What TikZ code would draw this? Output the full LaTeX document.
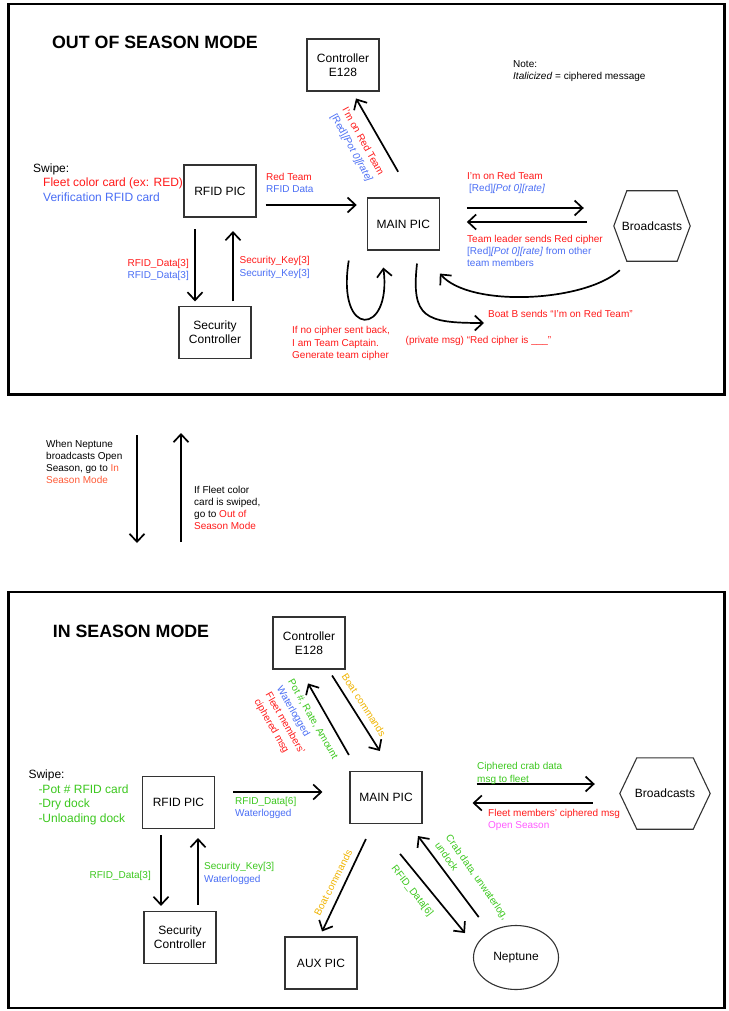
\documentclass[tikz,border=0pt]{standalone}
\usepackage{fontspec}
\setmainfont{Liberation Sans}
\usetikzlibrary{arrows.meta,shapes.geometric}
\definecolor{cred}{HTML}{FF1A1A}
\definecolor{cblue}{HTML}{4A6EF5}
\definecolor{cgreen}{HTML}{3CC81E}
\definecolor{corange}{HTML}{F0B400}
\definecolor{cmag}{HTML}{FF5CFF}
\definecolor{cored}{HTML}{FF5A36}
\begin{document}
\begin{tikzpicture}[x=1pt,y=-1pt,
  box/.style={draw=black!80, line width=1.1pt, minimum width=72pt, minimum height=52pt, inner sep=0pt, align=center, font=\fontsize{12}{14}\selectfont},
  hexn/.style={inner sep=0pt, font=\fontsize{12}{14}\selectfont},
  boxline/.style={draw=black!80, line width=1.1pt},
  ellbox/.style={ellipse, draw=black!80, line width=1.1pt, inner sep=0pt, font=\fontsize{12}{14}\selectfont},
  lbl/.style={align=left, anchor=north west, inner sep=0pt, font=\fontsize{10}{12.2}\selectfont},
  lblr/.style={align=right, anchor=north east, inner sep=0pt, font=\fontsize{10}{12.2}\selectfont},
  rlbl/.style={align=left, anchor=center, inner sep=0pt, font=\fontsize{10}{13}\selectfont},
  swipe/.style={align=left, anchor=north west, inner sep=0pt, font=\fontsize{12}{14.4}\selectfont},
  ttl/.style={inner sep=0pt, font=\fontsize{17.8}{20}\selectfont\bfseries},
  frame/.style={draw=black, line width=2.5pt},
  arr/.style={line width=1.7pt, -{Straight Barb[length=8pt,width=15pt]}}
]
\useasboundingbox (0,0) rectangle (728,1011);
\fill[white] (0,0) rectangle (728,1011);

% ---------- panels ----------
\draw[frame] (8.5,4) rectangle (724.5,394.5);
\draw[frame] (8.5,592) rectangle (724.5,1008);

% ================= OUT OF SEASON =================
\node[ttl] (tA) at (155,42) {OUT OF SEASON MODE};
\node[lbl, font=\fontsize{10}{12}\selectfont] (note) at (513,60.4) {Note:\\\textit{Italicized} = ciphered message};

\node[box] (ctrlA) at (343,65) {Controller\\E128};
\node[box] (rfidA) at (220,191) {RFID PIC};
\node[box] (secA) at (215,332.5) {Security\\Controller};
\node[box] (mainA) at (403.3,224) {MAIN PIC};
\node[hexn, minimum width=76pt, minimum height=70pt] (bcA) at (652,226) {Broadcasts};
\draw[boxline] (bcA.west) -- ([xshift=13pt]bcA.north west) -- ([xshift=-13pt]bcA.north east) -- (bcA.east) -- ([xshift=-13pt]bcA.south east) -- ([xshift=13pt]bcA.south west) -- cycle;

\node[swipe] (swA) at (33,163.7) {Swipe:\\\hspace*{10pt}\textcolor{cred}{Fleet color card (ex: RED)}\\\hspace*{10pt}\textcolor{cblue}{Verification RFID card}};

% arrows
\draw[arr, shorten <=11.5pt, shorten >=4.5pt] ([xshift=-25pt]rfidA.south) -- ([xshift=-20pt]secA.north);
\draw[arr, shorten <=4.5pt, shorten >=13.5pt] ([xshift=18pt]secA.north) -- ([xshift=13pt]rfidA.south);
\draw[arr, shorten <=9pt, shorten >=10pt] ([yshift=-14pt]rfidA.east) -- ([yshift=19pt]mainA.west);
\draw[arr, shorten <=29.6pt, shorten >=8pt] ([xshift=9.6pt]mainA.north) -- ([xshift=9pt]ctrlA.south);
\draw[arr, shorten <=27pt, shorten >=30pt] ([yshift=16pt]mainA.east) -- ([yshift=18pt]bcA.west);
\draw[arr, shorten <=27pt, shorten >=27pt] ([yshift=4pt]bcA.west) -- ([yshift=2pt]mainA.east);
\draw[arr] ([xshift=6pt,yshift=-9pt]bcA.south west) .. controls (585,302) and (470,308) .. ([yshift=-23pt]mainA.south east);
\draw[arr] ([xshift=-18pt,yshift=-10pt]mainA.south west) .. controls (336,340) and (392,336) .. ([xshift=-20pt,yshift=-17pt]mainA.south);
\coordinate (pmEnd) at (484,323);
\draw[arr] ([xshift=13.7pt,yshift=-13pt]mainA.south) .. controls (411,318) and (425,323) .. (pmEnd);

% labels
\node[lbl] (lRF) at (266,173.1) {\textcolor{cred}{Red Team}\\\textcolor{cblue}{RFID Data}};
\node[lbl] (lIm) at (467,172.1) {\textcolor{cred}{I'm on Red Team}\\\hspace*{2pt}\textcolor{cblue}{[Red]\textit{[Pot 0][rate]}}};
\node[lbl] (lTL) at (467,234.7) {\textcolor{cred}{Team leader sends Red cipher}\\\textcolor{cblue}{[Red]\textit{[Pot 0][rate]} from other}\\\textcolor{cblue}{team members}};
\node[lblr] (lRD) at (189,258.7) {\textcolor{cred}{RFID\_Data[3]}\\\textcolor{cblue}{RFID\_Data[3]}};
\node[lbl] (lSK) at (239.5,256.4) {\textcolor{cred}{Security\_Key[3]}\\\textcolor{cblue}{Security\_Key[3]}};
\node[lbl, text=cred] (lNC) at (292,326.4) {If no cipher sent back,\\I am Team Captain.\\Generate team cipher};
\node[lbl, text=cred] (lBB) at (488,309.7) {Boat B sends “I'm on Red Team”};
\node[lbl, text=cred] (lPM) at (405.5,335.7) {(private msg) “Red cipher is \_\_\_”};
\node[rlbl, rotate=-61] (rA) at (357,145) {\textcolor{cred}{I'm on Red Team}\\\textcolor{cblue}{[Red]\textit{[Pot 0][rate]}}};

% ================= BETWEEN =================
\coordinate (dnS) at (137,435);
\coordinate (dnE) at (137,543);
\coordinate (upS) at (181,542);
\coordinate (upE) at (181,433);
\draw[arr] (dnS) -- (dnE);
\draw[arr] (upS) -- (upE);
\node[lbl, font=\fontsize{10}{12}\selectfont] (lWN) at (46,440.4) {When Neptune\\broadcasts Open\\Season, go to \textcolor{cored}{In}\\\textcolor{cored}{Season Mode}};
\node[lbl, font=\fontsize{10}{12}\selectfont] (lIF) at (194,486.4) {If Fleet color\\card is swiped,\\go to \textcolor{cred}{Out of}\\\textcolor{cred}{Season Mode}};

% ================= IN SEASON =================
\node[ttl] (tB) at (131,631) {IN SEASON MODE};

\node[box] (ctrlB) at (309,643) {Controller\\E128};
\node[box] (rfidB) at (178.5,802.5) {RFID PIC};
\node[box] (secB) at (180,937.5) {Security\\Controller};
\node[box] (mainB) at (386,797.5) {MAIN PIC};
\node[box] (auxB) at (321,963) {AUX PIC};
\node[ellbox, minimum width=85pt, minimum height=64pt] (nep) at (516,957.5) {Neptune};
\node[hexn, minimum width=90pt, minimum height=71pt] (bcB) at (665,793.5) {Broadcasts};
\draw[boxline] (bcB.west) -- ([xshift=17pt]bcB.north west) -- ([xshift=-17pt]bcB.north east) -- (bcB.east) -- ([xshift=-17pt]bcB.south east) -- ([xshift=17pt]bcB.south west) -- cycle;

\node[swipe] (swB) at (28.3,770) {Swipe:\\\hspace*{10pt}\textcolor{cgreen}{-Pot \# RFID card}\\\hspace*{10pt}\textcolor{cgreen}{-Dry dock}\\\hspace*{10pt}\textcolor{cgreen}{-Unloading dock}};

% arrows
\draw[arr, shorten <=18.4pt, shorten >=16pt] ([xshift=-28pt]mainB.north) -- ([xshift=-8.9pt]ctrlB.south);
\draw[arr, shorten <=7pt, shorten >=23.6pt] ([xshift=19.3pt]ctrlB.south) -- ([xshift=6.5pt]mainB.north);
\draw[arr, shorten <=18pt, shorten >=27pt] ([yshift=10.5pt]rfidB.east) -- ([yshift=5.5pt]mainB.west);
\draw[arr, shorten <=6pt, shorten >=5pt] ([xshift=-17.5pt]rfidB.south) -- ([xshift=-19pt]secB.north);
\draw[arr, shorten <=6pt, shorten >=9pt] ([xshift=18pt]secB.north) -- ([xshift=19.5pt]rfidB.south);
\draw[arr, shorten <=16.6pt, shorten >=5.5pt] ([xshift=-13pt]mainB.south) -- ([xshift=-1.3pt]auxB.north);
\draw[arr, shorten <=38.6pt, shorten >=31.6pt] ([xshift=-10.4pt]mainB.south) -- ([xshift=-31pt]nep.center);
\draw[arr, shorten <=50.5pt, shorten >=15pt] ([xshift=-7pt]nep.center) -- ([xshift=23pt]mainB.south);
\draw[arr, shorten <=54pt, shorten >=25pt] ([yshift=13.5pt]mainB.east) -- ([yshift=9.5pt]bcB.west);
\draw[arr, shorten <=27pt, shorten >=50pt] ([yshift=-9.5pt]bcB.west) -- ([yshift=-5.5pt]mainB.east);

% labels
\node[lbl] (lR6) at (235,797.1) {\textcolor{cgreen}{RFID\_Data[6]}\\\textcolor{cblue}{Waterlogged}};
\node[lblr] (lR3) at (151,870.7) {\textcolor{cgreen}{RFID\_Data[3]}};
\node[lbl] (lSK2) at (204,862.4) {\textcolor{cgreen}{Security\_Key[3]}\\\textcolor{cblue}{Waterlogged}};
\node[lbl] (lCC) at (477,762.4) {\textcolor{cgreen}{Ciphered crab data}\\\textcolor{cgreen}{msg to fleet}};
\node[lbl] (lFM) at (488,809.1) {\textcolor{cred}{Fleet members' ciphered msg}\\\textcolor{cmag}{Open Season}};
\node[rlbl, rotate=-57, text=corange] (rB1) at (364,705) {Boat commands};
\node[rlbl, rotate=-60] (rB2) at (295.5,729.5) {\textcolor{cgreen}{Pot \#, Rate, Amount}\\\textcolor{cblue}{Waterlogged}\\\textcolor{cred}{Fleet members'}\\\textcolor{cred}{ciphered msg}};
\node[rlbl, rotate=63, text=corange] (rB3) at (333,883) {Boat commands};
\node[rlbl, rotate=-52, text=cgreen] (rB4) at (412,891) {RFID\_Data[6]};
\node[rlbl, rotate=-55, text=cgreen] (rB5) at (472,881) {Crab data, unwaterlog,\\undock};
\end{tikzpicture}
\end{document}
